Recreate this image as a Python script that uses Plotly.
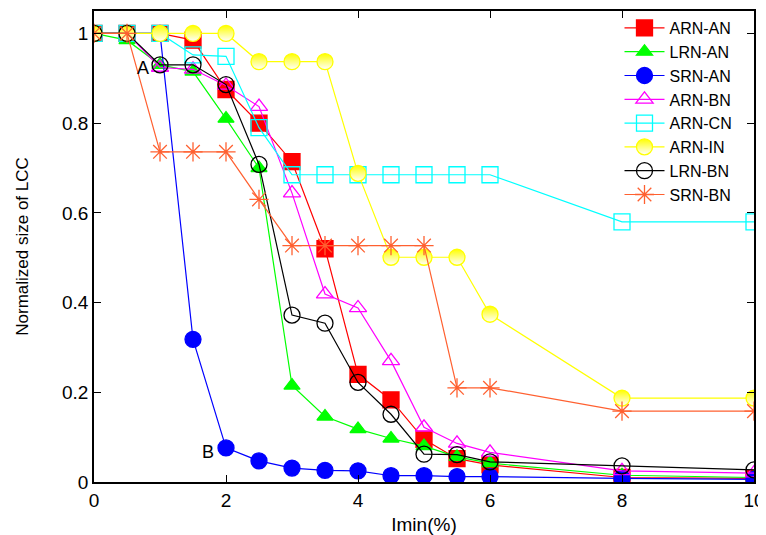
import plotly.graph_objects as go

x = [0, 0.5, 1, 1.5, 2, 2.5, 3, 3.5, 4, 4.5, 5, 5.5, 6, 8, 10]

arn_an = [1, 1, 1, 0.985, 0.875, 0.80, 0.714, 0.52, 0.24, 0.183, 0.095, 0.052, 0.038, 0.01, 0.008]
lrn_an = [1, 0.985, 0.93, 0.915, 0.81, 0.70, 0.215, 0.146, 0.118, 0.097, 0.08, 0.056, 0.042, 0.015, 0.01]
srn_an = [1, 1, 1, 0.318, 0.076, 0.047, 0.031, 0.026, 0.025, 0.014, 0.014, 0.012, 0.012, 0.008, 0.006]
arn_bn = [1, 1, 0.924, 0.92, 0.884, 0.837, 0.644, 0.419, 0.388, 0.27, 0.122, 0.086, 0.066, 0.025, 0.02]
arn_cn = [1, 1, 1, 0.952, 0.949, 0.79, 0.685, 0.685, 0.685, 0.685, 0.685, 0.685, 0.685, 0.58, 0.58]
arn_in = [1, 1, 1, 1, 1, 0.937, 0.937, 0.937, 0.688, 0.501, 0.501, 0.501, 0.374, 0.187, 0.187]
lrn_bn = [1, 1, 0.93, 0.93, 0.886, 0.708, 0.372, 0.354, 0.222, 0.151, 0.062, 0.061, 0.045, 0.036, 0.027]
srn_bn = [1, 1, 0.736, 0.736, 0.736, 0.63, 0.527, 0.527, 0.527, 0.527, 0.527, 0.21, 0.21, 0.158, 0.158]

x_ticks = [0, 2, 4, 6, 8, 10]
y_ticks = [0, 0.2, 0.4, 0.6, 0.8, 1]
y_tick_labels = ["0", "0.2", "0.4", "0.6", "0.8", "1"]

series = [
    ("ARN-AN", arn_an, "#ff0000", "square", 16, None),
    ("LRN-AN", lrn_an, "#00ff00", "triangle-up", 14, None),
    ("SRN-AN", srn_an, "#0000ff", "circle", 16, None),
    ("ARN-BN", arn_bn, "#ff00ff", "triangle-up-open", 15, None),
    ("ARN-CN", arn_cn, "#00ffff", "square-open", 16, None),
    ("ARN-IN", arn_in, "#ffff00", "circle", 16, "half"),
    ("LRN-BN", lrn_bn, "#000000", "circle-open", 16, None),
    ("SRN-BN", srn_bn, "#ff6030", "asterisk-open", 16, None),
]

fig = go.Figure()
for name, ys, col, sym, sz, special in series:
    marker = dict(symbol=sym, size=sz, color=col, line=dict(color=col, width=1.3))
    if special == "half":
        marker["gradient"] = dict(type="vertical", color="white")
    fig.add_trace(go.Scatter(
        x=x, y=ys, name=name, mode="lines+markers",
        line=dict(color=col, width=1.2),
        marker=marker,
    ))

fig.add_annotation(x=0.74, y=0.922, text="A", showarrow=False,
                   font=dict(size=18, color="black"), xanchor="center")
fig.add_annotation(x=1.73, y=0.067, text="B", showarrow=False,
                   font=dict(size=18, color="black"), xanchor="center")

axis_common = dict(showline=True, linecolor="black", linewidth=1.5, mirror="allticks",
                   ticks="inside", ticklen=7, tickcolor="black", tickwidth=1.2,
                   showgrid=False, zeroline=False, automargin=False,
                   tickfont=dict(size=19, color="black"))

fig.update_xaxes(range=[0, 10], tickvals=x_ticks,
                 title=dict(text="Imin(%)", font=dict(size=19, color="black"), standoff=12),
                 **axis_common)
fig.update_yaxes(range=[0, 1.05], tickvals=y_ticks, ticktext=y_tick_labels,
                 title=dict(text="Normalized size of LCC", font=dict(size=17, color="black"), standoff=29),
                 **axis_common)

# the page body adds an 8px offset, so the figure is sized to fill the rest of the window
fig.update_layout(
    width=758, height=527,
    margin=dict(l=86, r=12, t=3, b=53),
    plot_bgcolor="white", paper_bgcolor="white",
    font=dict(family="Liberation Sans, Arial, sans-serif", color="black"),
    legend=dict(x=0.975, y=1.0, xanchor="right", yanchor="top",
                bgcolor="rgba(0,0,0,0)", font=dict(size=16), tracegroupgap=0,
                itemwidth=40),
    showlegend=True,
)

fig.write_html("out.html")
